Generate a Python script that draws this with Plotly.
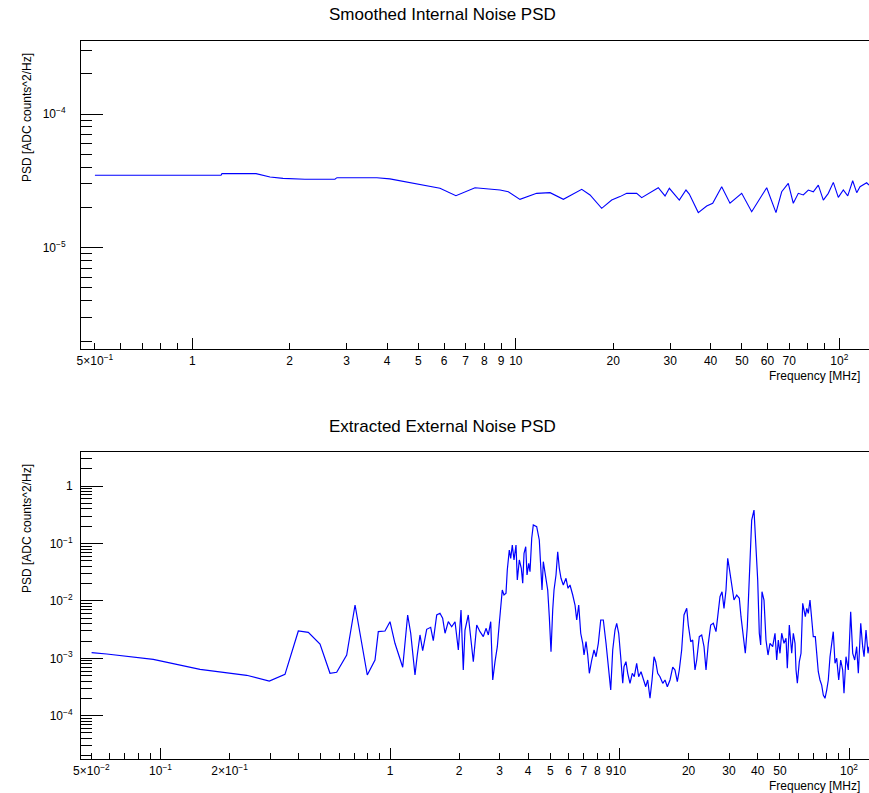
import plotly.graph_objects as go

# ---------------- data ----------------
f_int = [0.50, 1.227, 1.235, 1.574, 1.739, 1.908, 2.23, 2.76, 2.80, 3.72, 4.08, 4.54, 5.06, 5.83,
         6.53, 7.48, 8.94, 9.48, 10.30, 11.60, 12.76, 14.03, 15.99, 16.96, 18.43, 19.79, 20.99,
         22.02, 23.64, 24.50, 27.57, 28.93, 29.83, 32.02, 33.58, 34.38, 36.65, 38.91, 40.61, 43.30,
         45.93, 49.92, 53.60, 59.65, 63.72, 66.36, 69.55, 72.07, 74.69, 77.40, 80.21, 83.12, 86.13,
         89.25, 92.47, 95.83, 99.3, 102.9, 106.2, 110.0, 113.2, 115.9, 121.5, 123.5]
psd_int = [3.48e-5, 3.48e-5, 3.58e-5, 3.58e-5, 3.38e-5, 3.30e-5, 3.25e-5, 3.25e-5, 3.34e-5, 3.34e-5,
           3.27e-5, 3.12e-5, 2.98e-5, 2.78e-5, 2.45e-5, 2.81e-5, 2.70e-5, 2.62e-5, 2.30e-5, 2.55e-5,
           2.58e-5, 2.30e-5, 2.73e-5, 2.48e-5, 1.97e-5, 2.27e-5, 2.41e-5, 2.55e-5, 2.55e-5, 2.37e-5,
           2.81e-5, 2.44e-5, 2.78e-5, 2.27e-5, 2.70e-5, 2.52e-5, 1.83e-5, 2.05e-5, 2.15e-5, 2.86e-5,
           2.15e-5, 2.55e-5, 1.86e-5, 2.81e-5, 1.83e-5, 2.62e-5, 3.03e-5, 2.15e-5, 2.55e-5, 2.48e-5,
           2.70e-5, 2.62e-5, 2.94e-5, 2.27e-5, 2.55e-5, 3.08e-5, 2.38e-5, 2.70e-5, 2.44e-5, 3.17e-5,
           2.58e-5, 2.86e-5, 3.06e-5, 2.94e-5]

f_ext = [0.0501, 0.0583, 0.0930, 0.1487, 0.2374, 0.2979, 0.3487, 0.3986, 0.4406, 0.4955,
         0.5477, 0.5857, 0.6476, 0.7042, 0.7961, 0.8603, 0.8892, 0.9510, 1.000, 1.051,
         1.136, 1.194, 1.231, 1.285, 1.315, 1.351, 1.388, 1.445, 1.504, 1.544,
         1.598, 1.651, 1.696, 1.737, 1.795, 1.857, 1.920, 1.985, 2.039, 2.086,
         2.122, 2.193, 2.307, 2.387, 2.467, 2.550, 2.620, 2.682, 2.747, 2.803,
         2.868, 2.935, 2.994, 3.036, 3.085, 3.139, 3.202, 3.244, 3.310, 3.357,
         3.411, 3.470, 3.540, 3.587, 3.660, 3.734, 3.787, 3.837, 3.903, 3.954,
         4.022, 4.074, 4.145, 4.211, 4.357, 4.472, 4.550, 4.596, 4.656, 4.770,
         4.866, 4.945, 5.030, 5.116, 5.184, 5.289, 5.380, 5.467, 5.561, 5.690,
         5.847, 5.966, 6.086, 6.254, 6.400, 6.510, 6.642, 6.777, 6.915, 7.005,
         7.147, 7.270, 7.388, 7.568, 7.745, 7.902, 8.086, 8.283, 8.501, 8.735,
         8.939, 9.157, 9.342, 9.559, 9.723, 9.920, 10.12, 10.33, 10.46, 10.67,
         10.86, 11.11, 11.37, 11.60, 11.88, 12.12, 12.41, 12.70, 13.01, 13.27,
         13.58, 13.86, 14.14, 14.38, 14.67, 15.01, 15.43, 15.79, 16.16, 16.60,
         17.06, 17.45, 17.86, 18.22, 18.66, 19.10, 19.63, 19.94, 20.43, 20.84,
         21.33, 21.70, 22.27, 22.81, 23.35, 23.82, 24.38, 24.97, 25.63, 26.33,
         26.95, 27.41, 27.97, 28.53, 29.11, 29.61, 30.09, 30.82, 31.54, 32.41,
         33.27, 33.84, 34.63, 35.33, 36.05, 36.78, 37.67, 38.55, 39.33, 40.01,
         40.66, 41.23, 41.77, 42.62, 43.48, 44.37, 45.27, 46.50, 47.60, 48.42,
         49.20, 50.04, 50.90, 52.10, 53.16, 53.85, 54.95, 56.28, 57.20, 58.19,
         58.78, 59.55, 60.75, 61.79, 62.85, 63.67, 64.51, 65.42, 66.47, 67.62,
         68.78, 69.89, 71.31, 72.32, 73.48, 74.74, 76.03, 77.27, 78.59, 79.95,
         81.25, 82.65, 84.04, 85.40, 86.90, 88.39, 90.19, 92.01, 93.87, 95.11,
         97.03, 99.31, 101.7, 103.8, 105.9, 108.0, 109.8, 112.5, 114.7, 116.3,
         118.6, 121.0, 122.2]
psd_ext = [1.252e-3, 1.188e-3, 9.61e-4, 6.43e-4, 5.06e-4, 4.02e-4, 5.26e-4, 2.99e-3, 2.84e-3, 1.775e-3,
           5.48e-4, 5.70e-4, 1.14e-3, 8.48e-3, 5.12e-4, 9.34e-4, 2.91e-3, 2.99e-3, 4.34e-3, 1.825e-3,
           6.97e-4, 5.68e-3, 2.73e-3, 5.12e-4, 1.14e-3, 2.55e-3, 1.356e-3, 3.20e-3, 3.47e-3, 2.03e-3,
           5.68e-3, 6.08e-3, 4.98e-3, 2.73e-3, 4.34e-3, 3.55e-3, 4.34e-3, 1.395e-3, 6.94e-3, 6.25e-4,
           3.11e-3, 5.68e-3, 8.73e-4, 3.80e-3, 2.91e-3, 2.38e-3, 3.33e-3, 2.55e-3, 4.34e-3, 4.19e-4,
           8.73e-4, 1.593e-3, 4.07e-3, 9.08e-3, 1.548e-2, 1.267e-2, 1.357e-2, 3.45e-2, 7.71e-2, 5.52e-2,
           9.42e-2, 5.16e-2, 9.42e-2, 2.31e-2, 5.16e-2, 3.70e-2, 2.03e-2, 6.75e-2, 8.80e-2, 2.83e-2,
           4.52e-2, 3.23e-2, 0.1232, 0.210, 0.196, 0.1151, 2.83e-2, 1.548e-2, 4.82e-2, 2.31e-2,
           1.548e-2, 5.31e-3, 1.303e-3, 6.94e-3, 1.548e-2, 2.83e-2, 7.20e-2, 3.70e-2, 2.48e-2, 1.892e-2,
           2.48e-2, 1.658e-2, 1.892e-2, 1.267e-2, 8.48e-3, 4.65e-3, 8.48e-3, 2.73e-3, 1.825e-3, 1.14e-3,
           1.946e-3, 1.14e-3, 5.48e-4, 9.34e-4, 1.395e-3, 1.066e-3, 1.825e-3, 4.65e-3, 4.65e-3, 1.825e-3,
           8.18e-4, 2.80e-4, 1.395e-3, 3.11e-3, 4.07e-3, 2.73e-3, 1.066e-3, 3.67e-4, 7.14e-4, 8.73e-4,
           5.48e-4, 3.67e-4, 5.48e-4, 4.78e-4, 8.18e-4, 4.78e-4, 5.84e-4, 4.19e-4, 3.20e-4, 4.19e-4,
           2.01e-4, 4.19e-4, 1.066e-3, 8.73e-4, 5.48e-4, 4.78e-4, 3.67e-4, 4.19e-4, 3.20e-4, 4.19e-4,
           7.05e-4, 6.25e-4, 3.91e-4, 6.25e-4, 1.395e-3, 5.68e-3, 7.43e-3, 3.80e-3, 1.946e-3, 2.08e-3,
           6.25e-4, 9.34e-4, 2.38e-3, 2.55e-3, 1.593e-3, 6.25e-4, 1.825e-3, 3.80e-3, 4.07e-3, 2.91e-3,
           7.43e-3, 1.184e-2, 1.446e-2, 7.43e-3, 1.548e-2, 5.52e-2, 3.70e-2, 2.03e-2, 1.037e-2, 1.267e-2,
           1.110e-2, 5.31e-3, 2.38e-3, 1.222e-3, 3.55e-3, 3.45e-2, 0.2567, 0.383, 8.80e-2, 2.31e-2,
           2.73e-3, 1.705e-3, 1.446e-2, 1.037e-2, 2.08e-3, 1.14e-3, 1.825e-3, 1.593e-3, 2.73e-3, 9.34e-4,
           2.08e-3, 1.222e-3, 2.73e-3, 1.825e-3, 2.23e-3, 6.70e-4, 3.80e-3, 1.222e-3, 2.73e-3, 1.825e-3,
           6.25e-4, 3.67e-4, 8.73e-4, 1.222e-3, 9.08e-3, 6.94e-3, 5.31e-3, 7.43e-3, 6.08e-3, 1.037e-2,
           4.65e-3, 2.38e-3, 2.38e-3, 1.066e-3, 5.84e-4, 4.19e-4, 3.42e-4, 2.29e-4, 2.01e-4, 2.80e-4,
           4.19e-4, 1.066e-3, 1.825e-3, 2.91e-3, 8.18e-4, 1.0e-3, 4.19e-4, 9.34e-4, 6.25e-4, 2.46e-4,
           1.066e-3, 6.25e-4, 6.48e-3, 1.222e-3, 9.34e-4, 1.593e-3, 5.48e-4, 4.07e-3, 1.593e-3, 1.066e-3,
           3.11e-3, 1.222e-3, 1.593e-3]

# tick definitions
top_x_labeled = [0.5, 1, 2, 3, 4, 5, 6, 7, 8, 9, 10, 20, 30, 40, 50, 60, 70, 100]
top_x_text = ["5×10<sup>−1</sup>", "1", "2", "3", "4", "5", "6", "7", "8", "9", "10",
              "20", "30", "40", "50", "60", "70", "10<sup>2</sup>"]
top_x_minor = [0.6, 0.7, 0.8, 0.9, 80, 90]
top_x_decades = [1, 10, 100]
top_y_major = [1e-5, 1e-4]
top_y_text = ["10<sup>−5</sup>", "10<sup>−4</sup>"]
top_y_minor = [2e-6, 3e-6, 4e-6, 5e-6, 6e-6, 7e-6, 8e-6, 9e-6,
               2e-5, 3e-5, 4e-5, 5e-5, 6e-5, 7e-5, 8e-5, 9e-5, 2e-4, 3e-4]

bot_x_labeled = [0.05, 0.1, 0.2, 1, 2, 3, 4, 5, 6, 7, 8, 9, 10, 20, 30, 40, 50, 100]
bot_x_text = ["5×10<sup>−2</sup>", "10<sup>−1</sup>", "2×10<sup>−1</sup>", "1", "2", "3", "4", "5",
              "6", "7", "8", "9", "10", "20", "30", "40", "50", "10<sup>2</sup>"]
bot_x_minor = [0.06, 0.07, 0.08, 0.09, 0.3, 0.4, 0.5, 0.6, 0.7, 0.8, 0.9, 60, 70, 80, 90]
bot_x_decades = [0.1, 1, 10, 100]
bot_y_major = [1e-4, 1e-3, 1e-2, 1e-1, 1]
bot_y_text = ["10<sup>−4</sup>", "10<sup>−3</sup>", "10<sup>−2</sup>", "10<sup>−1</sup>", "1"]
bot_y_minor = [m * 10.0 ** e for e in (-5, -4, -3, -2, -1) for m in range(2, 10)] + [2, 3]

# ---------------- figure ----------------
W, H = 869, 793
FONT = "Liberation Sans, Arial, Helvetica, sans-serif"
LINE = "#0000ff"

def px_x(x):
    return x / W

def px_y(y):
    return 1 - y / H

xdom = [px_x(81), 1.0]
top_dom = [px_y(349), px_y(41)]
bot_dom = [px_y(759.3), px_y(451.7)]

top_xr = [(81 - 192.3) / 323.5, (869 - 192.3) / 323.5]
top_yr = [-4 - (349 - 114) / 133.7, -4 + (114 - 41) / 133.7]
bot_xr = [(81 - 390) / 229.5, (869 - 390) / 229.5]
bot_yr = [-3 - (759.3 - 658.3) / 57.4, -3 + (658.3 - 451.7) / 57.4]

fig = go.Figure()
fig.add_trace(go.Scatter(x=f_int, y=psd_int, mode="lines", line=dict(color=LINE, width=1.1),
                         xaxis="x", yaxis="y", hoverinfo="skip"))
fig.add_trace(go.Scatter(x=[], y=[], xaxis="x3", yaxis="y", hoverinfo="skip"))
fig.add_trace(go.Scatter(x=f_ext, y=psd_ext, mode="lines", line=dict(color=LINE, width=1.2),
                         xaxis="x2", yaxis="y2", hoverinfo="skip"))
fig.add_trace(go.Scatter(x=[], y=[], xaxis="x4", yaxis="y2", hoverinfo="skip"))

tickfont = dict(family=FONT, size=12, color="black")

def main_x(rng, anchor, decades, minor):
    return dict(type="log", range=rng, domain=xdom, anchor=anchor,
                showline=True, mirror=True, linecolor="black", linewidth=1,
                showgrid=False, zeroline=False, automargin=False,
                tickmode="array", tickvals=decades, ticks="inside", ticklen=11,
                tickcolor="black", tickwidth=1, showticklabels=False,
                minor=dict(tickmode="array", tickvals=minor, ticks="inside", ticklen=6,
                           tickcolor="black", tickwidth=1, showgrid=False))

def label_x(rng, over, anchor, vals, text):
    return dict(type="log", range=rng, domain=xdom, overlaying=over, anchor=anchor,
                side="bottom", showline=False, showgrid=False, zeroline=False, automargin=False,
                tickmode="array", tickvals=vals, ticktext=text, ticks="inside", ticklen=6,
                tickangle=0, tickcolor="black", tickwidth=1, tickfont=tickfont,
                ticklabelstandoff=3)

def main_y(rng, dom, anchor, major, text, minor, standoff):
    return dict(type="log", range=rng, domain=dom, anchor=anchor,
                showline=True, mirror=False, linecolor="black", linewidth=1,
                showgrid=False, zeroline=False, automargin=False,
                tickmode="array", tickvals=major, ticktext=text, ticks="inside", ticklen=22,
                tickcolor="black", tickwidth=1, tickfont=tickfont, ticklabelstandoff=standoff,
                minor=dict(tickmode="array", tickvals=minor, ticks="inside", ticklen=11,
                           tickcolor="black", tickwidth=1, showgrid=False))

fig.update_layout(
    width=W, height=H,
    margin=dict(l=0, r=0, t=0, b=0, pad=0),
    paper_bgcolor="white", plot_bgcolor="white",
    showlegend=False,
    font=dict(family=FONT, size=12, color="black"),
    xaxis=main_x(top_xr, "y", top_x_decades, top_x_minor),
    xaxis3=label_x(top_xr, "x", "y", top_x_labeled, top_x_text),
    yaxis=main_y(top_yr, top_dom, "x", top_y_major, top_y_text, top_y_minor, 12),
    xaxis2=main_x(bot_xr, "y2", bot_x_decades, bot_x_minor),
    xaxis4=label_x(bot_xr, "x2", "y2", bot_x_labeled, bot_x_text),
    yaxis2=main_y(bot_yr, bot_dom, "x2", bot_y_major, bot_y_text, bot_y_minor, 5),
)

ann = []
for title, yc in (("Smoothed Internal Noise PSD", 15), ("Extracted External Noise PSD", 426)):
    ann.append(dict(text=title, x=px_x(442), y=px_y(yc), xref="paper", yref="paper",
                    xanchor="center", yanchor="middle", showarrow=False,
                    font=dict(family=FONT, size=17, color="black")))
for yc in (376, 786):
    ann.append(dict(text="Frequency [MHz]", x=px_x(862), y=px_y(yc), xref="paper", yref="paper",
                    xanchor="right", yanchor="middle", showarrow=False,
                    font=dict(family=FONT, size=12, color="black")))
for yc in (118, 529):
    ann.append(dict(text="PSD [ADC counts^2/Hz]", x=px_x(27), y=px_y(yc), xref="paper", yref="paper",
                    xanchor="center", yanchor="middle", textangle=-90, showarrow=False,
                    font=dict(family=FONT, size=12, color="black")))
fig.update_layout(annotations=ann)

fig.write_html("out.html", config={"displayModeBar": False},
               post_script="document.body.style.margin='0';document.body.style.overflow='hidden';")
